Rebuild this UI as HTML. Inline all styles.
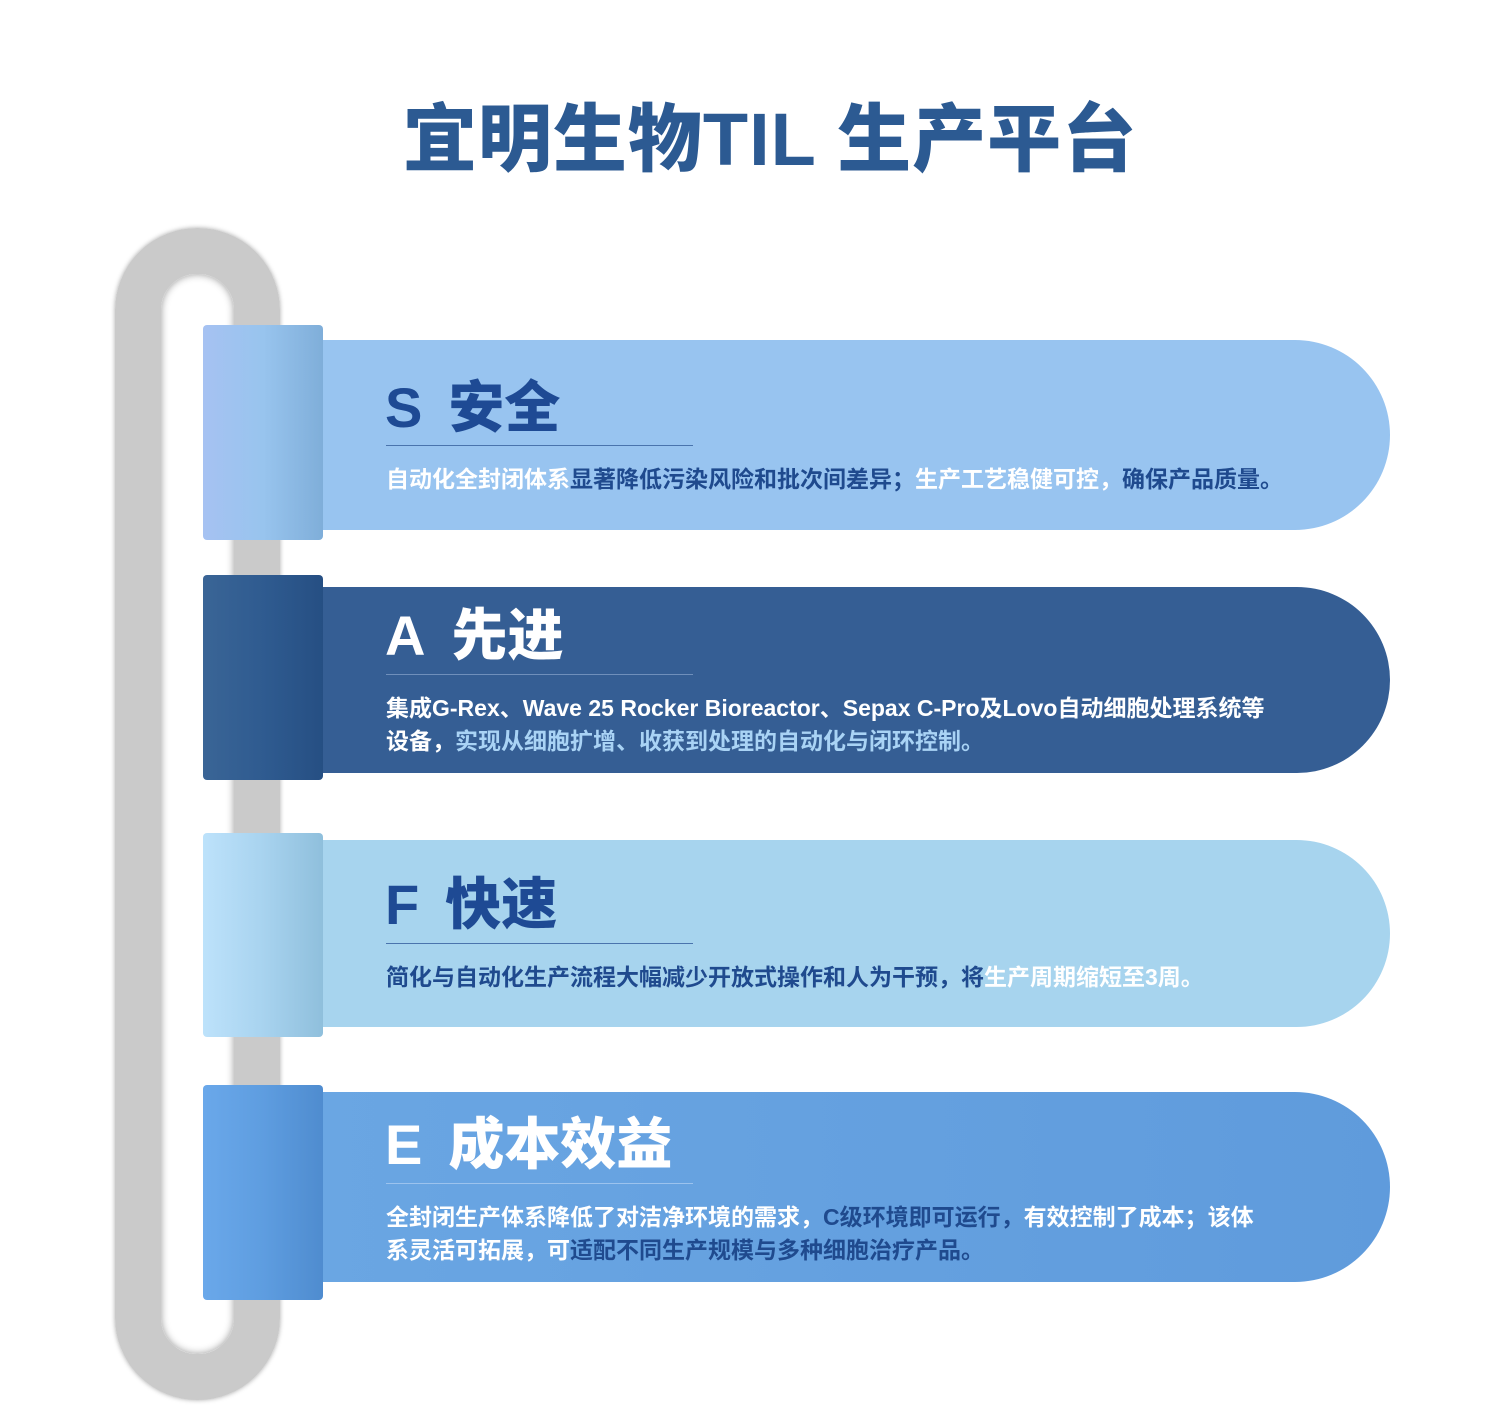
<!DOCTYPE html>
<html><head><meta charset="utf-8"><style>
body{margin:0;width:1498px;height:1410px;background:#fff;position:relative;overflow:hidden;font-family:"Liberation Sans","Noto Sans CJK SC",sans-serif}
.abs{position:absolute}
.title{left:0;width:1540px;top:80px;text-align:center;font-size:74px;font-weight:900;color:#2c5a92;letter-spacing:1px}
.pipe{left:115px;top:228px;width:73px;height:1080px;border:46px solid #cacaca;border-radius:82px;box-shadow:inset 0 0 8px #999, 0 0 5px #aaa}
.band{left:300px;width:1090px;border-radius:0 95px 95px 0}
.sleeve{left:203px;width:120px;border-radius:4px}
.h{left:385px;font-size:56px;font-weight:900;color:#1e4a94;line-height:1}
.h span{margin-left:26px}
.ul{left:386px;width:307px;height:1px;background:#4a74ad}
.t{left:386px;font-size:23px;font-weight:700;line-height:33px;white-space:nowrap}
.w{color:#fff}.d{color:#1f4a8e}.lb{color:#a9d3f5}
</style></head><body>
<div class="abs title">宜明生物TIL 生产平台</div>
<div class="abs pipe"></div>

<div class="abs band" style="top:340px;height:190px;background:#98c4f0"></div>
<div class="abs sleeve" style="top:325px;height:215px;background:linear-gradient(90deg,#a6c2f2,#98c4ee 50%,#7faed9)"></div>
<div class="abs h" style="top:380px">S<span>安全</span></div>
<div class="abs ul" style="top:445px"></div>
<div class="abs t" style="top:463px"><span class="w">自动化全封闭体系</span><span class="d">显著降低污染风险和批次间差异；</span><span class="w">生产工艺稳健可控，</span><span class="d">确保产品质量。</span></div>

<div class="abs band" style="top:587px;height:186px;background:#355e94"></div>
<div class="abs sleeve" style="top:575px;height:205px;background:linear-gradient(90deg,#3a6596,#2f5b90 50%,#264f83)"></div>
<div class="abs h" style="top:608px;color:#fff">A<span>先进</span></div>
<div class="abs ul" style="top:674px;background:#6f8fbb"></div>
<div class="abs t w" style="top:692px">集成G-Rex、Wave 25 Rocker Bioreactor、Sepax C-Pro及Lovo自动细胞处理系统等<br>设备，<span class="lb">实现从细胞扩增、收获到处理的自动化与闭环控制。</span></div>

<div class="abs band" style="top:840px;height:187px;background:#a7d4ee"></div>
<div class="abs sleeve" style="top:833px;height:204px;background:linear-gradient(90deg,#bde2fb,#a8d3ef 50%,#8fbfdc)"></div>
<div class="abs h" style="top:877px">F<span>快速</span></div>
<div class="abs ul" style="top:943px"></div>
<div class="abs t" style="top:961px"><span class="d">简化与自动化生产流程大幅减少开放式操作和人为干预，将</span><span class="w">生产周期缩短至3周。</span></div>

<div class="abs band" style="top:1092px;height:190px;background:linear-gradient(90deg,#6aa6e3,#5f9bdc)"></div>
<div class="abs sleeve" style="top:1085px;height:215px;background:linear-gradient(90deg,#6aa8ea,#5e9de0 50%,#4f8ccf)"></div>
<div class="abs h" style="top:1117px;color:#fff">E<span>成本效益</span></div>
<div class="abs ul" style="top:1183px;background:#9cc3ee"></div>
<div class="abs t" style="top:1201px"><span class="w">全封闭生产体系降低了对洁净环境的需求，</span><span class="d">C级环境即可运行，</span><span class="w">有效控制了成本；该体<br>系灵活可拓展，可</span><span class="d">适配不同生产规模与多种细胞治疗产品。</span></div>
</body></html>
